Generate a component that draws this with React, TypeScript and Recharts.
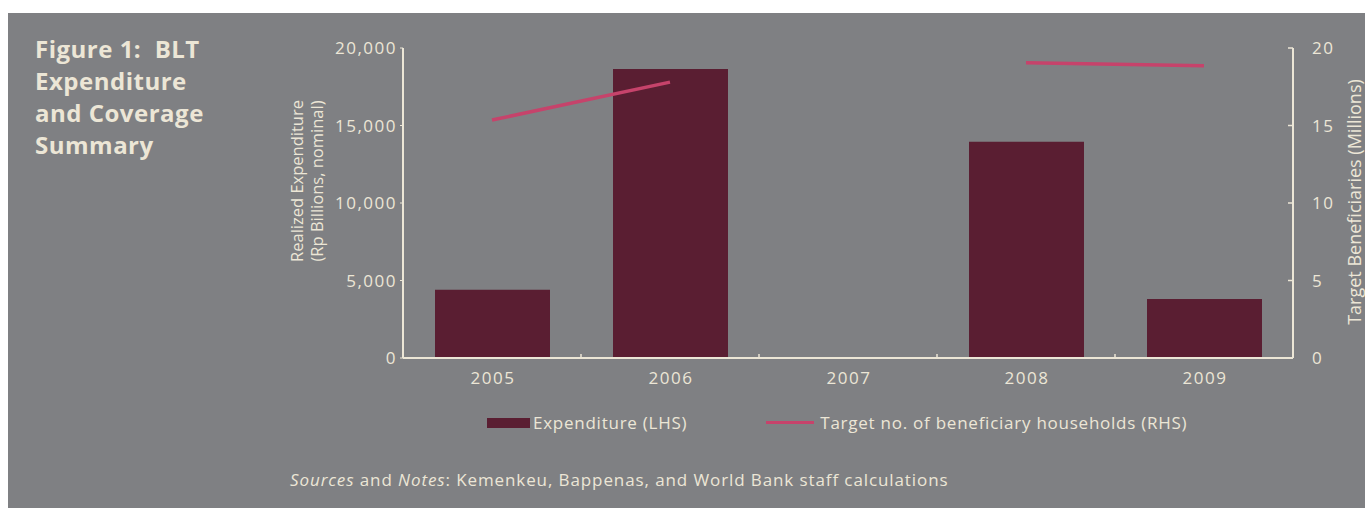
import React from "react";
import {
  ComposedChart,
  Bar,
  Line,
  XAxis,
  YAxis,
} from "recharts";

const years = ["2005", "2006", "2007", "2008", "2009"];
const expenditure = [4400, 18650, null, 13950, 3800];
const targetHouseholds = [15.35, 17.8, null, 19.05, 18.85];
const leftTicks = [0, 5000, 10000, 15000, 20000];
const rightTicks = [0, 5, 10, 15, 20];

const data = years.map((year, i) => ({
  year,
  expenditure: expenditure[i],
  households: targetHouseholds[i],
}));

const BG = "#7f8083";
const CREAM = "#ece6d6";
const BAR = "#5a1e32";
const LINE = "#c6436b";
const FONT = "'Open Sans', sans-serif";

const XTick = (props: any) => {
  const { x, y, width, visibleTicksCount, index, payload } = props;
  const band = width / visibleTicksCount;
  return (
    <g>
      {index > 0 && (
        <line x1={x - band / 2} x2={x - band / 2} y1={y} y2={y - 4} stroke={CREAM} strokeWidth={1.5} />
      )}
      <text
        x={x + 1}
        y={y + 14}
        dy="0.71em"
        textAnchor="middle"
        fill={CREAM}
        fontSize={17}
        letterSpacing={1.5}
        fontFamily={FONT}
      >
        {payload.value}
      </text>
    </g>
  );
};

const RightTick = (props: any) => {
  const { x, y, payload } = props;
  return (
    <g>
      <line x1={x - 5} x2={x} y1={y} y2={y} stroke={CREAM} strokeWidth={1.5} />
      <text
        x={x + 19}
        y={y}
        dy="0.355em"
        textAnchor="start"
        fill={CREAM}
        fontSize={17}
        letterSpacing={1.5}
        fontFamily={FONT}
      >
        {payload.value}
      </text>
    </g>
  );
};

const LeftLabel = () => {
  const cx = 289;
  const cy = 168;
  return (
    <text
      transform={`rotate(-90 ${cx} ${cy})`}
      x={cx}
      y={cy}
      textAnchor="middle"
      fill={CREAM}
      fontSize={16.5}
      fontFamily={FONT}
    >
      <tspan x={cx} dy="0.35em">Realized Expenditure</tspan>
      <tspan x={cx} dy="1.22em">(Rp Billions, nominal)</tspan>
    </text>
  );
};

const RightLabel = () => {
  const cx = 1347;
  const cy = 189;
  return (
    <text
      transform={`rotate(-90 ${cx} ${cy})`}
      x={cx}
      y={cy}
      dy="0.35em"
      textAnchor="middle"
      fill={CREAM}
      fontSize={18}
      fontFamily={FONT}
    >
      Target Beneficiaries (Millions)
    </text>
  );
};

export default function App() {
  return (
    <>
      <style>{"body{margin:0;overflow:hidden}"}</style>
      <div
        style={{
          position: "absolute",
          left: 8,
          top: 13,
          width: 1357,
          height: 495,
          background: BG,
          fontFamily: FONT,
          color: CREAM,
        }}
      >
        <div
          style={{
            position: "absolute",
            left: 27,
            top: 20,
            fontSize: 24,
            fontWeight: 700,
            lineHeight: "32px",
            letterSpacing: 0.5,
          }}
        >
          Figure 1:&nbsp; BLT
          <br />
          Expenditure
          <br />
          and Coverage
          <br />
          Summary
        </div>

        <ComposedChart
          width={1357}
          height={495}
          data={data}
          margin={{ top: 35, right: 0, bottom: 110, left: 0 }}
          style={{ position: "absolute", left: 0, top: 0 }}
        >
          <XAxis
            dataKey="year"
            height={40}
            axisLine={{ stroke: CREAM, strokeWidth: 2 }}
            tickLine={false}
            tickSize={0}
            tickMargin={0}
            tick={<XTick />}
            interval={0}
          />
          <YAxis
            yAxisId="left"
            width={395}
            domain={[0, 20000]}
            ticks={leftTicks}
            tickFormatter={(v: number) => v.toLocaleString("en-US")}
            axisLine={{ stroke: CREAM, strokeWidth: 2 }}
            tickLine={{ stroke: CREAM }}
            tickSize={3}
            tickMargin={3}
            tick={{ fill: CREAM, fontSize: 17, fontFamily: FONT, letterSpacing: 1.5 }}
            label={<LeftLabel />}
          />
          <YAxis
            yAxisId="right"
            orientation="right"
            width={72}
            domain={[0, 20]}
            ticks={rightTicks}
            axisLine={{ stroke: CREAM, strokeWidth: 2 }}
            tickLine={false}
            tickSize={0}
            tickMargin={0}
            tick={<RightTick />}
            label={<RightLabel />}
          />
          <Bar
            yAxisId="left"
            dataKey="expenditure"
            fill={BAR}
            barSize={115}
            isAnimationActive={false}
          />
          <Line
            yAxisId="right"
            dataKey="households"
            stroke={LINE}
            strokeWidth={3.5}
            dot={false}
            activeDot={false}
            connectNulls={false}
            isAnimationActive={false}
          />
        </ComposedChart>

        <div
          style={{
            position: "absolute",
            left: 479,
            top: 398,
            display: "flex",
            alignItems: "center",
            fontSize: 17,
            letterSpacing: 0.75,
            whiteSpace: "nowrap",
          }}
        >
          <span style={{ display: "inline-block", width: 43, height: 10, background: BAR, marginRight: 3 }} />
          <span>Expenditure (LHS)</span>
          <span style={{ display: "inline-block", width: 48, height: 3.5, background: LINE, marginLeft: 79, marginRight: 6 }} />
          <span>Target no. of beneficiary households (RHS)</span>
        </div>

        <div
          style={{
            position: "absolute",
            left: 282,
            top: 455,
            fontSize: 17,
            letterSpacing: 0.9,
            whiteSpace: "nowrap",
          }}
        >
          <i>Sources</i> and <i>Notes</i>: Kemenkeu, Bappenas, and World Bank staff calculations
        </div>
      </div>
    </>
  );
}
